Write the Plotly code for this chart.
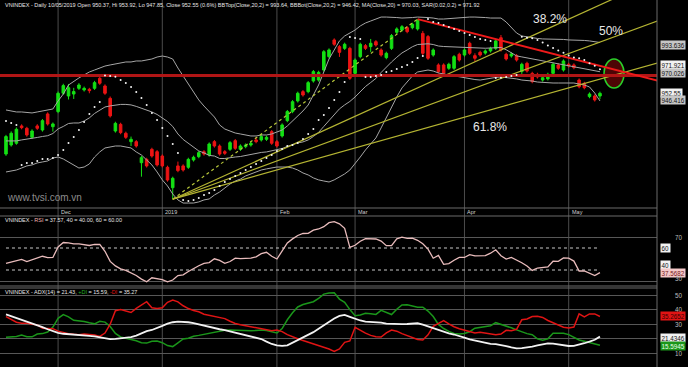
import plotly.graph_objects as go
import pandas as pd

# ---------------- trading calendar (categories) ----------------
holidays = ["2018-12-31", "2019-01-01", "2019-02-04", "2019-02-05", "2019-02-06",
            "2019-02-07", "2019-02-08", "2019-04-15", "2019-04-30", "2019-05-01"]
days = [d for d in pd.bdate_range("2018-11-19", "2019-05-10")
        if d.strftime("%Y-%m-%d") not in holidays]

# ---------------- price data ----------------
opens = [903.5, 910.8, 912.2, 926.2, 924.3, 917.0, 926.2, 922.9, 935.9, 925.6,
         937.8, 952.6, 950.4, 952.0, 956.6, 955.3, 955.8, 956.6, 964.7, 958.5,
         948.5, 922.1, 927.5, 920.3, 913.5, 913.5, 896.5, 899.2, 907.3, 905.4,
         901.9, 892.8, 876.3, 893.9, 893.9, 892.8, 898.7, 901.4, 905.4, 902.7,
         913.5, 910.0, 905.4, 907.3, 914.3, 907.3, 909.5, 910.8, 914.9, 914.9,
         915.4, 921.6, 913.5, 918.1, 930.5, 937.8, 946.4, 953.9, 953.9, 962.5,
         963.3, 971.4, 982.2, 995.7, 990.3, 988.9, 988.9, 968.7, 982.2, 991.1,
         990.3, 994.3, 987.6, 981.4, 988.9, 1001.9, 1003.7, 1005.6, 1005.6, 1004.6,
         1001.0, 998.4, 983.5, 975.5, 975.5, 972.8, 972.8, 984.1, 983.5, 993.0,
         983.0, 985.7, 985.1, 986.8, 988.9, 997.5, 984.1, 982.7, 983.0, 970.1,
         976.8, 968.7, 967.9, 963.3, 964.2, 968.7, 975.5, 971.4, 976.0, 975.5,
         963.3, 960.6, 949.9, 950.4, 950.37]
highs = [919.0, 921.8, 925.0, 927.5, 925.5, 923.5, 927.6, 931.8, 937.2, 929.0,
         954.0, 960.3, 960.1, 957.0, 960.8, 958.0, 957.0, 962.6, 967.4, 959.8,
         950.0, 929.6, 928.8, 921.6, 917.6, 914.8, 902.0, 900.5, 908.6, 906.7,
         903.2, 894.1, 885.2, 897.4, 895.2, 900.5, 902.2, 905.9, 906.7, 912.9,
         914.8, 911.3, 906.7, 914.0, 915.6, 911.3, 912.1, 913.5, 917.0, 920.0,
         918.3, 922.9, 914.8, 928.3, 939.1, 947.1, 953.9, 955.2, 962.5, 971.4,
         970.8, 987.5, 988.9, 997.0, 991.6, 993.5, 990.2, 980.8, 993.5, 992.4,
         996.5, 995.6, 988.9, 986.2, 1000.5, 1005.9, 1007.7, 1006.9, 1009.6, 1012.6,
         1003.0, 999.7, 988.9, 976.8, 976.8, 977.3, 983.5, 985.4, 988.9, 994.3,
         984.9, 987.0, 988.1, 990.2, 996.2, 999.7, 985.4, 985.7, 984.3, 977.3,
         978.1, 970.0, 969.2, 966.5, 969.2, 977.3, 976.8, 980.0, 977.3, 976.8,
         964.6, 961.9, 953.3, 951.7, 953.92]
lows = [902.0, 909.5, 911.0, 923.5, 917.5, 915.8, 923.0, 921.6, 926.5, 921.6,
        936.5, 951.4, 947.6, 948.0, 955.3, 954.0, 952.6, 955.3, 959.4, 951.3,
        933.0, 920.8, 919.5, 915.7, 910.0, 908.7, 885.2, 892.6, 900.6, 893.4,
        892.6, 881.2, 867.0, 888.8, 889.3, 891.5, 897.4, 900.1, 902.2, 901.4,
        908.7, 902.2, 902.8, 906.0, 906.8, 906.0, 908.2, 909.5, 912.2, 913.6,
        914.1, 910.9, 908.7, 916.8, 929.2, 936.5, 945.1, 949.9, 952.6, 961.2,
        962.0, 970.1, 980.9, 990.9, 982.0, 987.6, 963.4, 967.4, 980.9, 987.6,
        986.0, 990.3, 982.2, 980.1, 987.6, 1000.6, 1002.4, 1001.1, 1004.3, 1003.3,
        983.0, 979.6, 982.2, 968.8, 967.4, 971.5, 971.5, 978.2, 982.2, 983.6,
        978.2, 982.2, 983.8, 985.5, 987.6, 986.3, 979.0, 981.4, 978.2, 966.5,
        969.3, 960.7, 964.5, 962.0, 962.9, 967.4, 971.5, 970.1, 973.3, 972.0,
        956.6, 955.8, 948.6, 945.9, 947.85]
closes = [917.6, 920.3, 923.5, 924.8, 918.9, 922.1, 924.3, 930.5, 927.8, 927.8,
          952.6, 958.8, 957.1, 954.0, 959.3, 956.6, 954.7, 961.2, 960.7, 952.6,
          934.3, 928.3, 920.8, 917.0, 915.4, 910.0, 900.6, 893.9, 901.9, 894.7,
          893.9, 882.5, 883.9, 890.1, 890.6, 899.2, 900.9, 904.6, 903.5, 911.6,
          910.0, 903.5, 904.1, 912.7, 908.1, 910.0, 910.8, 912.2, 913.5, 917.6,
          917.0, 912.2, 910.0, 927.0, 937.8, 945.8, 952.6, 951.2, 961.2, 970.1,
          969.5, 986.2, 987.6, 992.2, 985.7, 992.2, 964.7, 979.5, 992.2, 988.9,
          993.0, 991.6, 983.5, 984.9, 999.2, 1004.6, 1006.4, 1002.4, 1008.3, 1011.8,
          984.9, 980.9, 987.6, 970.1, 968.7, 976.0, 982.2, 979.5, 987.6, 984.9,
          980.9, 983.5, 986.8, 988.9, 994.9, 987.6, 980.3, 984.4, 979.5, 976.0,
          970.6, 962.0, 965.8, 965.2, 967.9, 976.0, 972.8, 978.7, 974.6, 973.3,
          957.9, 957.1, 952.0, 947.2, 952.55]

bb_top = [939.1, 938.3, 937.5, 937.5, 937.1, 936.7, 937.5, 938.3, 938.7, 939.9,
          946.4, 952.0, 959.3, 962.5, 965.0, 967.4, 969.8, 971.4, 973.0, 974.6,
          975.5, 976.3, 977.1, 977.9, 977.9, 978.7, 978.7, 979.5, 980.3, 981.9,
          982.7, 981.9, 980.3, 973.0, 966.6, 960.1, 953.6, 947.2, 942.3, 937.5,
          933.4, 927.0, 923.7, 922.1, 920.5, 919.7, 918.9, 918.1, 918.1, 918.9,
          918.9, 919.7, 921.3, 922.9, 926.2, 930.2, 934.3, 938.3, 943.1, 951.2,
          959.3, 969.8, 980.3, 987.6, 994.9, 998.9, 1001.3, 1003.7, 1007.0, 1009.4,
          1011.0, 1012.6, 1014.2, 1014.2, 1014.2, 1013.8, 1013.4, 1013.4, 1013.8, 1014.2,
          1014.2, 1013.8, 1013.4, 1012.6, 1012.6, 1013.0, 1013.4, 1013.4, 1013.8, 1014.2,
          1014.2, 1014.2, 1013.8, 1013.4, 1013.4, 1013.4, 1010.2, 1005.4, 1001.3, 998.9,
          998.1, 997.3, 996.9, 996.5, 996.5, 996.5, 996.1, 996.1, 995.7, 995.7,
          995.7, 995.3, 994.9, 994.5, 993.64]
bb_mid = [914.1, 914.1, 914.1, 914.9, 915.5, 915.7, 916.9, 917.7, 918.3, 920.1,
          923.8, 925.8, 928.2, 928.6, 928.6, 930.2, 932.7, 936.3, 939.1, 941.5,
          942.4, 943.2, 943.6, 943.6, 943.2, 942.0, 940.7, 939.1, 937.5, 935.5,
          932.7, 929.8, 925.8, 919.7, 915.3, 912.0, 908.8, 906.0, 904.4, 902.4,
          901.9, 899.9, 899.9, 900.7, 901.1, 901.5, 902.4, 902.8, 903.6, 904.8,
          905.2, 906.0, 907.2, 908.0, 909.6, 911.2, 912.5, 913.3, 914.9, 917.7,
          921.0, 925.8, 930.6, 935.1, 940.0, 943.2, 946.0, 949.6, 954.1, 958.1,
          961.3, 964.6, 969.4, 973.8, 977.9, 981.7, 985.2, 987.6, 990.2, 992.0,
          992.4, 992.6, 992.0, 990.8, 990.4, 990.2, 990.0, 989.6, 989.4, 989.2,
          989.0, 988.8, 989.0, 989.2, 989.4, 989.6, 987.8, 985.2, 982.8, 982.0,
          981.2, 980.2, 979.4, 978.5, 977.6, 976.8, 976.0, 975.3, 974.7, 974.0,
          973.3, 972.6, 971.8, 971.0, 970.03]
bb_bot = [889.0, 889.8, 890.6, 892.2, 893.9, 894.7, 896.3, 897.1, 897.9, 900.3,
          901.1, 899.5, 897.1, 894.7, 892.2, 893.0, 895.5, 901.1, 905.2, 908.4,
          909.2, 910.0, 910.0, 909.2, 908.4, 905.2, 902.7, 898.7, 894.7, 889.0,
          882.6, 877.7, 871.2, 866.4, 863.9, 863.9, 863.9, 864.8, 866.4, 867.2,
          870.4, 872.8, 876.1, 879.3, 881.7, 883.3, 885.8, 887.4, 889.0, 890.6,
          891.5, 892.2, 893.0, 893.0, 893.0, 892.2, 890.6, 888.2, 886.6, 884.2,
          882.6, 881.7, 880.9, 882.6, 885.0, 887.4, 890.6, 895.5, 901.1, 906.8,
          911.6, 916.5, 924.6, 933.4, 941.5, 949.6, 956.9, 961.7, 966.6, 969.8,
          970.6, 971.4, 970.6, 969.0, 968.2, 967.4, 966.6, 965.8, 965.0, 964.2,
          963.7, 963.3, 964.2, 965.0, 965.4, 965.8, 965.4, 965.0, 964.2, 963.3,
          963.0, 962.5, 961.7, 961.3, 960.9, 960.9, 960.9, 960.9, 960.9, 960.9,
          960.1, 959.3, 957.7, 952.8, 946.42]
sar = [930.2, 928.6, 927.0, 894.7, 896.3, 896.3, 897.9, 899.5, 899.5, 900.3,
       902.7, 906.8, 912.4, 917.3, 922.9, 929.4, 935.9, 941.5, 945.6, 967.0,
       966.6, 966.0, 963.3, 960.9, 957.7, 953.6, 948.8, 943.1, 936.7, 931.0,
       924.6, 918.1, 911.6, 904.3, 866.4, 865.6, 866.4, 868.0, 870.4, 872.0,
       874.5, 877.7, 880.9, 883.3, 885.8, 888.2, 890.6, 893.0, 895.5, 897.9,
       900.3, 902.7, 906.0, 907.6, 910.0, 910.8, 912.4, 915.7, 919.7, 923.8,
       931.0, 935.1, 940.7, 947.2, 953.6, 961.7, 998.1, 997.3, 996.5, 965.8,
       965.8, 966.6, 967.4, 969.8, 970.6, 972.2, 973.8, 975.5, 977.9, 981.1,
       982.7, 1012.6, 1010.2, 1009.4, 1007.8, 1006.2, 1004.6, 1002.9, 1001.3, 999.7,
       998.1, 996.5, 995.7, 994.9, 965.0, 965.2, 965.8, 966.6, 967.4, 998.3,
       997.5, 997.0, 995.7, 993.6, 991.2, 989.2, 987.2, 985.3, 983.1, 981.5,
       980.9, 979.5, 976.8, 974.9, 971.92]

support_level = 967.0
trend_idx = [79, 125]
trend_val = [1012.6, 962.9]
fib_levels = [0.382, 0.5, 0.618]
fib_labels = ["38.2%", "50%", "61.8%"]
fib_label_idx = [104.4, 116.1, 92.9]
fib_label_val = [1012.6, 1002.9, 925.4]
target_idx, target_val = 116.7, 968.6

# ---------------- RSI ----------------
rsi = [46.1, 47.5, 48.8, 49.6, 47.7, 49.3, 50.4, 52.5, 51.3, 51.4,
       61.0, 65.0, 64.6, 63.7, 63.8, 63.3, 62.3, 63.2, 63.3, 57.0,
       47.8, 43.7, 41.0, 39.6, 37.2, 35.0, 31.7, 29.3, 32.9, 32.2,
       31.2, 29.2, 30.9, 35.0, 35.6, 38.6, 41.5, 43.9, 46.1, 46.8,
       50.2, 48.7, 46.1, 47.7, 50.8, 50.3, 50.6, 50.8, 52.0, 54.8,
       56.1, 52.5, 50.0, 57.5, 64.6, 68.3, 71.4, 73.2, 73.3, 76.2,
       77.3, 79.4, 83.0, 83.9, 82.0, 77.9, 60.5, 62.5, 66.2, 68.6,
       68.2, 68.2, 66.3, 62.1, 62.1, 68.3, 69.8, 68.8, 69.0, 67.0,
       63.8, 59.0, 50.7, 53.3, 45.2, 45.8, 48.9, 51.5, 51.4, 54.0,
       52.9, 52.7, 53.0, 55.3, 58.4, 53.0, 50.0, 51.4, 49.1, 46.6,
       43.6, 39.6, 41.8, 42.1, 42.8, 48.0, 47.9, 50.9, 50.8, 48.1,
       39.1, 39.1, 37.0, 34.9, 37.57]
rsi_levels = [60, 40]

# ---------------- ADX ----------------
adx = [36.7, 35.5, 34.2, 32.7, 31.9, 30.6, 29.3, 28.0, 26.5, 25.0,
       24.0, 23.4, 23.2, 23.0, 22.7, 22.4, 22.0, 21.6, 21.1, 20.5,
       19.7, 19.9, 20.2, 20.7, 21.1, 22.1, 23.8, 25.2, 26.0, 27.2,
       28.8, 30.3, 31.3, 31.7, 31.7, 31.3, 30.7, 29.8, 28.8, 27.9,
       27.1, 26.5, 25.9, 25.0, 24.0, 23.2, 22.5, 21.6, 20.7, 19.8,
       18.0, 16.4, 15.5, 15.1, 15.5, 17.2, 19.0, 20.8, 22.5, 24.5,
       26.9, 29.3, 31.6, 33.9, 35.7, 36.3, 35.0, 33.5, 32.5, 31.7,
       31.6, 31.4, 31.0, 30.4, 30.1, 29.9, 30.0, 30.1, 30.3, 30.6,
       29.7, 28.5, 27.2, 25.6, 24.6, 23.7, 22.9, 22.0, 20.7, 19.5,
       18.6, 17.8, 17.0, 16.4, 16.3, 15.9, 15.0, 14.1, 13.4, 13.6,
       13.9, 14.6, 15.4, 16.3, 16.8, 16.6, 16.1, 15.4, 15.0, 15.1,
       15.8, 16.9, 18.0, 19.3, 21.43]
plus_di = [21.0, 21.0, 21.5, 22.5, 21.3, 21.3, 23.2, 23.5, 24.6, 28.0,
           34.0, 36.5, 35.0, 32.6, 32.4, 31.8, 30.9, 30.2, 32.0, 31.4,
           28.4, 23.6, 21.2, 20.1, 19.4, 18.6, 17.3, 17.0, 18.3, 18.4,
           17.3, 15.3, 14.6, 17.2, 19.8, 20.3, 21.7, 22.3, 23.0, 23.8,
           24.7, 25.5, 25.8, 25.9, 25.7, 25.5, 25.5, 25.5, 25.6, 26.0,
           25.6, 24.7, 23.9, 27.0, 33.0, 37.8, 41.8, 43.5, 44.4, 45.4,
           47.7, 50.6, 51.3, 51.6, 47.2, 45.0, 40.0, 35.8, 36.3, 37.4,
           37.2, 36.7, 39.5, 38.2, 36.6, 40.2, 43.2, 43.3, 42.3, 41.6,
           41.6, 39.0, 35.2, 29.8, 27.0, 25.0, 23.6, 23.3, 23.6, 24.8,
           27.2, 27.7, 28.1, 28.9, 31.0, 30.0, 28.9, 27.5, 26.1, 24.7,
           23.5, 22.8, 20.0, 18.9, 20.0, 23.7, 24.0, 23.8, 22.8, 21.1,
           19.1, 18.3, 17.4, 16.3, 15.59]
minus_di = [35.1, 33.2, 31.3, 30.7, 30.7, 30.0, 29.5, 27.2, 27.1, 26.9,
            25.2, 24.1, 23.5, 23.0, 22.7, 23.2, 23.0, 22.5, 21.6, 23.9,
            30.0, 39.2, 40.0, 38.9, 38.0, 40.8, 43.2, 45.4, 41.2, 40.8,
            41.2, 45.0, 46.6, 45.3, 42.6, 40.7, 39.4, 38.5, 36.8, 36.0,
            35.1, 34.6, 33.8, 32.0, 30.5, 29.6, 28.9, 28.5, 28.0, 27.0,
            26.1, 25.5, 25.9, 24.9, 22.8, 21.2, 20.0, 18.8, 17.7, 16.5,
            15.2, 14.0, 12.9, 11.3, 13.0, 17.5, 18.5, 27.8, 25.7, 23.8,
            22.3, 21.4, 21.2, 24.0, 25.9, 25.2, 23.5, 22.2, 20.7, 19.5,
            19.1, 22.7, 28.5, 30.8, 32.5, 30.2, 28.2, 26.8, 26.0, 24.9,
            23.9, 24.5, 23.8, 23.4, 22.7, 23.2, 25.8, 25.5, 26.5, 33.0,
            33.5, 35.2, 35.4, 34.6, 32.5, 31.0, 29.6, 27.9, 27.4, 28.0,
            37.0, 35.0, 37.0, 37.0, 35.27]

n = len(days)
xs = list(range(n))

# ---------------- styling ----------------
FONT = "Liberation Sans"
W, H = 688, 367
PLOT_R = 657 / W
GRID = "#575757"
X_RANGE = [-1.15, 124.95]

def py(px):
    return 1 - px / H

fig = go.Figure()

# Bollinger bands
for band in (bb_top, bb_mid, bb_bot):
    fig.add_trace(go.Scatter(x=xs, y=band, mode="lines",
                             line=dict(color="#a6a6a6", width=1), xaxis="x", yaxis="y"))

# Fib fan lines from the low to the high
i_lo = min(range(n), key=lambda k: lows[k])
i_hi = max(range(n), key=lambda k: highs[k])
lo, hi = lows[i_lo], highs[i_hi]
x_far = 125
fig.add_trace(go.Scatter(x=[i_lo, i_hi], y=[lo, hi], mode="lines",
                         line=dict(color="#b8c83a", width=1.2, dash="dot"), xaxis="x", yaxis="y"))
for lvl in fib_levels:
    y_at_hi = hi - lvl * (hi - lo)
    slope = (y_at_hi - lo) / (i_hi - i_lo)
    fig.add_trace(go.Scatter(x=[i_lo, x_far], y=[lo, lo + slope * (x_far - i_lo)], mode="lines",
                             line=dict(color="#b4b432", width=1.2), xaxis="x", yaxis="y"))

# support + downtrend lines
fig.add_trace(go.Scatter(x=[-2, x_far], y=[support_level, support_level], mode="lines",
                         line=dict(color="#b01515", width=3), xaxis="x", yaxis="y"))
fig.add_trace(go.Scatter(x=trend_idx, y=trend_val, mode="lines",
                         line=dict(color="#ee1a1a", width=1.8), xaxis="x", yaxis="y"))

# candles
fig.add_trace(go.Candlestick(x=xs, open=opens, high=highs, low=lows, close=closes,
                             increasing=dict(line=dict(color="#14e014", width=1), fillcolor="#14e014"),
                             decreasing=dict(line=dict(color="#ec1414", width=1), fillcolor="#ec1414"),
                             whiskerwidth=0, xaxis="x", yaxis="y"))

# SAR
fig.add_trace(go.Scatter(x=xs, y=sar, mode="markers",
                         marker=dict(color="#f4f4f4", size=2.0, line=dict(width=0)),
                         xaxis="x", yaxis="y"))

# RSI
for lv in rsi_levels:
    fig.add_trace(go.Scatter(x=[0, n - 1], y=[lv, lv], mode="lines",
                             line=dict(color="#c8c8c8", width=1, dash="dot"), xaxis="x2", yaxis="y2"))
fig.add_trace(go.Scatter(x=xs, y=rsi, mode="lines", line=dict(color="#e9bcbc", width=1.3),
                         xaxis="x2", yaxis="y2"))

# ADX
fig.add_trace(go.Scatter(x=xs, y=plus_di, mode="lines", line=dict(color="#1a961a", width=1.5),
                         xaxis="x3", yaxis="y3"))
fig.add_trace(go.Scatter(x=xs, y=minus_di, mode="lines", line=dict(color="#e01414", width=1.5),
                         xaxis="x3", yaxis="y3"))
fig.add_trace(go.Scatter(x=xs, y=adx, mode="lines", line=dict(color="#f2f2f2", width=1.8),
                         xaxis="x3", yaxis="y3"))

# ---------------- shapes ----------------
shapes = []
month_starts = [i for i in range(n) if i == 0 or days[i].month != days[i - 1].month][1:]
for i in month_starts:
    shapes.append(dict(type="line", xref="x", yref="paper", x0=i, x1=i, y0=0, y1=1,
                       line=dict(color="#4c4c4c", width=1), layer="below"))
shapes.append(dict(type="line", xref="paper", yref="paper", x0=PLOT_R, x1=PLOT_R, y0=0, y1=1,
                   line=dict(color="#6a6a6a", width=1)))
for ypx in (208, 216, 286, 288):
    shapes.append(dict(type="line", xref="paper", yref="paper", x0=0, x1=PLOT_R,
                       y0=py(ypx), y1=py(ypx), line=dict(color="#6a6a6a", width=1)))
shapes.append(dict(type="circle", xref="x", yref="y",
                   x0=target_idx - 1.92, x1=target_idx + 1.92,
                   y0=target_val - 11.7, y1=target_val + 11.7,
                   fillcolor="#4e0505", line=dict(color="#2ad02a", width=1.5), layer="below"))

# ---------------- annotations ----------------
ann = []
ann.append(dict(xref="paper", yref="paper", x=3 / W, y=py(5), xanchor="left", yanchor="middle",
                showarrow=False, font=dict(family=FONT, size=5.5, color="#e6e6e6"),
                text="VNINDEX - Daily 10/05/2019 Open 950.37, Hi 953.92, Lo 947.85, Close 952.55 (0.6%) "
                     "BBTop(Close,20,2) = 993.64, BBBot(Close,20,2) = 946.42, MA(Close,20) = 970.03, "
                     "SAR(0.02,0.2) = 971.92"))
ann.append(dict(xref="paper", yref="paper", x=3 / W, y=py(220), xanchor="left", yanchor="middle",
                showarrow=False, font=dict(family=FONT, size=5.5, color="#e6e6e6"),
                text="VNINDEX - <span style='color:#f0b0b0'>RSI</span> = 37.57, 40 = 40.00, 60 = 60.00"))
ann.append(dict(xref="paper", yref="paper", x=3 / W, y=py(292), xanchor="left", yanchor="middle",
                showarrow=False, font=dict(family=FONT, size=5.5, color="#e6e6e6"),
                text="VNINDEX - ADX(14) = 21.43, <span style='color:#22b022'>+DI</span> = 15.59, "
                     "<span style='color:#e01414'>-DI</span> = 35.27"))
ann.append(dict(xref="paper", yref="paper", x=5 / W, y=py(197), xanchor="left", yanchor="middle",
                showarrow=False, font=dict(family=FONT, size=10, color="#8c8c8c"),
                text="www.tvsi.com.vn"))

for i in month_starts:
    d = days[i]
    label = str(d.year) if d.month == 1 else d.strftime("%b")
    ann.append(dict(xref="x", yref="paper", x=i, y=py(212), xanchor="left", yanchor="middle",
                    xshift=1, showarrow=False, font=dict(family=FONT, size=5.5, color="#cfcfcf"),
                    text=label))

for txt, xi, yv in zip(fib_labels, fib_label_idx, fib_label_val):
    ann.append(dict(xref="x", yref="y", x=xi, y=yv, showarrow=False,
                    font=dict(family=FONT, size=12, color="#e8e8e8"), text=txt))

def tag(text, yref, yv, bg, fg, yshift=0):
    ann.append(dict(xref="paper", yref=yref, x=660 / W, y=yv, xanchor="left", yanchor="middle",
                    yshift=yshift, showarrow=False, bgcolor=bg, borderpad=0.5,
                    font=dict(family=FONT, size=6.3, color=fg), text=text))

def plain(text, yref, yv, yshift=0):
    ann.append(dict(xref="paper", yref=yref, x=685 / W, y=yv, xanchor="right", yanchor="middle",
                    yshift=yshift, showarrow=False,
                    font=dict(family=FONT, size=6.3, color="#bdbdbd"), text=text))

tag("993.636", "y", 993.64, "#c6c6c6", "#111111", -2.5)
tag("971.921", "y", 971.92, "#f2f2f2", "#111111", 4.5)
tag("970.026", "y", 970.03, "#c6c6c6", "#111111", -1.5)
tag("952.55", "y", 952.55, "#f2f2f2", "#111111", 0)
tag("946.416", "y", 946.42, "#c6c6c6", "#111111", 1)

plain("70", "y2", 70)
tag("60", "y2", 60, "#f2f2f2", "#111111")
tag("40", "y2", 40, "#f2f2f2", "#111111", 5)
tag("37.5682", "y2", 37.57, "#f4c8c8", "#7a2020")
plain("30", "y2", 30, 3)

plain("50", "y3", 50)
plain("40", "y3", 40)
plain("30", "y3", 30)
plain("10", "y3", 10)
tag("35.2652", "y3", 35.27, "#e01414", "#3a0000")
tag("21.4346", "y3", 21.43, "#f2f2f2", "#111111", -1.7)
tag("15.5945", "y3", 15.59, "#1a961a", "#e8ffe8", -0.5)

# ---------------- layout ----------------
xcommon = dict(range=X_RANGE, domain=[0, PLOT_R], showticklabels=False, showgrid=False,
               zeroline=False, showline=False, ticks="", fixedrange=True)
fig.update_layout(
    width=W, height=H, margin=dict(l=0, r=0, t=0, b=0),
    paper_bgcolor="#000000", plot_bgcolor="#000000", showlegend=False, hovermode=False,
    xaxis=dict(**xcommon, anchor="y", rangeslider=dict(visible=False)),
    xaxis2=dict(**xcommon, anchor="y2", matches="x"),
    xaxis3=dict(**xcommon, anchor="y3", matches="x"),
    yaxis=dict(domain=[py(207), 1], range=[860.7, 1027.98], showticklabels=False, showgrid=False,
               zeroline=False, anchor="x"),
    yaxis2=dict(domain=[py(286), py(216)], range=[25.45, 89.1], tickvals=[30, 70],
                showticklabels=False, showgrid=True, gridcolor=GRID, gridwidth=1,
                zeroline=False, anchor="x2"),
    yaxis3=dict(domain=[0, py(288)], range=[0.6, 54.8], tickvals=[10, 20, 30, 40, 50],
                showticklabels=False, showgrid=True, gridcolor=GRID, gridwidth=1,
                zeroline=False, anchor="x3"),
    shapes=shapes, annotations=ann,
)

fig.write_html("out.html", config={"displayModeBar": False},
               post_script="document.body.style.margin='0px';document.body.style.overflow='hidden';")
